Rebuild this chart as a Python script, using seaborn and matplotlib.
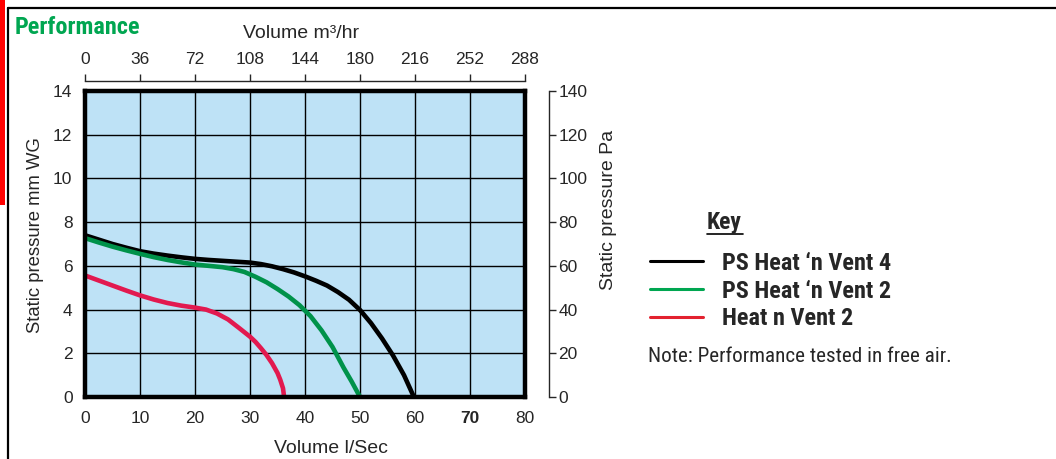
import numpy as np
import pandas as pd
import matplotlib
matplotlib.use("Agg")
import matplotlib.pyplot as plt
from matplotlib.lines import Line2D
import seaborn as sns

# ---------------- data ----------------
models = ["PS Heat \u2018n Vent 4", "PS Heat \u2018n Vent 2", "Heat n Vent 2"]

vent4_flow = [0, 2.5, 5, 7.5, 10, 12.5, 15, 17.5, 20, 22.5, 25, 27.5, 30, 32, 34, 36,
              38, 40, 42, 44, 46, 48, 50, 52, 54, 56, 58, 59.8]
vent4_pres = [7.4, 7.2, 7.0, 6.83, 6.67, 6.56, 6.47, 6.39, 6.32, 6.27, 6.23, 6.19, 6.15,
              6.08, 5.98, 5.85, 5.7, 5.52, 5.32, 5.1, 4.8, 4.45, 3.98, 3.38, 2.68, 1.9, 1.0, 0.0]

psvent2_flow = [0, 2.5, 5, 7.5, 10, 12.5, 15, 17.5, 20, 22.5, 25, 27, 29, 31, 33, 35,
                37, 39, 41, 43, 45, 47, 48.5, 50]
psvent2_pres = [7.27, 7.07, 6.88, 6.71, 6.55, 6.4, 6.27, 6.16, 6.06, 6.0, 5.94, 5.85, 5.72,
                5.5, 5.25, 4.94, 4.6, 4.2, 3.7, 3.05, 2.29, 1.35, 0.7, 0.0]

hnv2_flow = [0, 2.5, 5, 7.5, 10, 12.5, 15, 17.5, 20, 22, 24, 26, 28, 30, 31, 32, 33,
             34, 35, 35.5, 36, 36.2]
hnv2_pres = [5.56, 5.33, 5.1, 4.87, 4.65, 4.46, 4.3, 4.18, 4.09, 4.0, 3.82, 3.55, 3.16,
             2.76, 2.52, 2.23, 1.92, 1.55, 1.1, 0.79, 0.4, 0.0]

curve_colors = ["#000000", "#00924a", "#e2194f"]
key_colors = ["#000000", "#00a651", "#e3222f"]

x_ticks = [0, 10, 20, 30, 40, 50, 60, 70, 80]
y_ticks = [0, 2, 4, 6, 8, 10, 12, 14]
top_ticks = [0, 36, 72, 108, 144, 180, 216, 252, 288]
right_ticks = [0, 20, 40, 60, 80, 100, 120, 140]

title = "Performance"
x_label = "Volume l/Sec"
top_label = "Volume m\u00b3/hr"
y_label = "Static pressure mm WG"
right_label = "Static pressure Pa"
note = "Note: Performance tested in free air."

df = pd.concat([
    pd.DataFrame({"flow": vent4_flow, "pressure": vent4_pres, "model": models[0]}),
    pd.DataFrame({"flow": psvent2_flow, "pressure": psvent2_pres, "model": models[1]}),
    pd.DataFrame({"flow": hnv2_flow, "pressure": hnv2_pres, "model": models[2]}),
], ignore_index=True)

# ---------------- style ----------------
sns.set_style("white")
plt.rcParams["font.family"] = ["Liberation Sans", "DejaVu Sans"]
narrow = ["Liberation Sans Narrow", "Roboto Condensed", "Archivo Narrow",
          "PT Sans Narrow", "Liberation Sans", "DejaVu Sans"]

W, H = 1056, 459
fig = plt.figure(figsize=(W / 100, H / 100), dpi=100)

ax = fig.add_axes([85 / W, 1 - 397 / H, 440 / W, 306 / H])
ax.set_facecolor("#bee2f6")
ax.set_xlim(0, 80)
ax.set_ylim(0, 14)

sns.lineplot(data=df, x="flow", y="pressure", hue="model", hue_order=models,
             palette=dict(zip(models, curve_colors)), sort=False, estimator=None,
             linewidth=3.3, legend=False, ax=ax, zorder=5)
for ln in ax.get_lines():
    ln.set_solid_capstyle("butt")
    ln.set_solid_joinstyle("round")

ax.set_xticks(x_ticks)
ax.set_yticks(y_ticks)
ax.grid(True, color="black", linewidth=1.0)
ax.set_axisbelow(True)
for s in ax.spines.values():
    s.set_visible(True)
    s.set_linewidth(3.2)
    s.set_color("black")
    s.set_zorder(6)
ax.tick_params(axis="both", length=0, labelsize=12.5)
ax.tick_params(axis="x", pad=10)
ax.tick_params(axis="y", pad=9)
ax.set_xlabel(x_label, fontsize=14)
ax.xaxis.set_label_coords(0.56, -0.141)
ax.set_ylabel(y_label, fontsize=13.3)
ax.yaxis.set_label_coords(-0.094, 0.53)
for lbl in ax.get_xticklabels():
    if lbl.get_text() == "70":
        lbl.set_fontweight("bold")

# top axis (m3/hr)
axt = ax.twiny()
axt.set_xlim(0, 288)
axt.set_xticks(top_ticks)
axt.set_xticklabels([str(t) for t in top_ticks])
for lbl in axt.get_xticklabels():
    if lbl.get_text() != "0":
        lbl.set_fontweight("bold")
for k in ["left", "right", "bottom"]:
    axt.spines[k].set_visible(False)
axt.spines["top"].set_position(("outward", 7))
axt.spines["top"].set_linewidth(1.0)
axt.tick_params(axis="x", direction="out", length=5, width=1.0, labelsize=12.5, pad=5)
axt.set_xlabel(top_label, fontsize=14)
axt.xaxis.set_label_coords(0.49, 1.172)

# right axis (Pa)
axr = ax.twinx()
axr.set_ylim(0, 140)
axr.set_yticks(right_ticks)
for k in ["left", "top", "bottom"]:
    axr.spines[k].set_visible(False)
axr.spines["right"].set_position(("outward", 17))
axr.spines["right"].set_linewidth(1.0)
axr.tick_params(axis="y", direction="out", length=5, width=1.0, labelsize=12.5, pad=2)
axr.set_ylabel(right_label, fontsize=14)
axr.yaxis.set_label_coords(1.17, 0.61)

# title
fig.text(15 / W, 1 - 27 / H, title, fontsize=17.5, fontweight="bold",
         color="#00a651", family=narrow, va="center", ha="left")

# key / legend
handles = [Line2D([], [], color=c, linewidth=2.2) for c in key_colors]
leg = fig.legend(handles, models, loc="upper left",
                 bbox_to_anchor=(650 / W, 1 - 252 / H), frameon=False,
                 prop={"family": narrow, "weight": "bold", "size": 17.5},
                 handlelength=2.18, handletextpad=0.78, labelspacing=0.19,
                 borderaxespad=0, borderpad=0)
key_txt = fig.text(707 / W, 1 - 222 / H, "Key", fontsize=17, fontweight="bold",
                   family=narrow, va="center", ha="left")
fig.add_artist(Line2D([707 / W, 743 / W], [1 - 234 / H, 1 - 234 / H],
                      color="black", linewidth=1.2, transform=fig.transFigure))
fig.text(648 / W, 1 - 357 / H, note, fontsize=15.2, family=narrow,
         va="center", ha="left")

# page frame
fig.add_artist(Line2D([8 / W, 1], [1 - 8 / H, 1 - 8 / H], color="black",
                      linewidth=1.6, transform=fig.transFigure))
fig.add_artist(Line2D([8 / W, 8 / W], [0, 1 - 8 / H], color="black",
                      linewidth=1.6, transform=fig.transFigure))
fig.add_artist(plt.Rectangle((0, 1 - 205 / H), 5 / W, 205 / H, color="#ff0000",
                             transform=fig.transFigure, linewidth=0))

fig.savefig("out.png", dpi=100)
